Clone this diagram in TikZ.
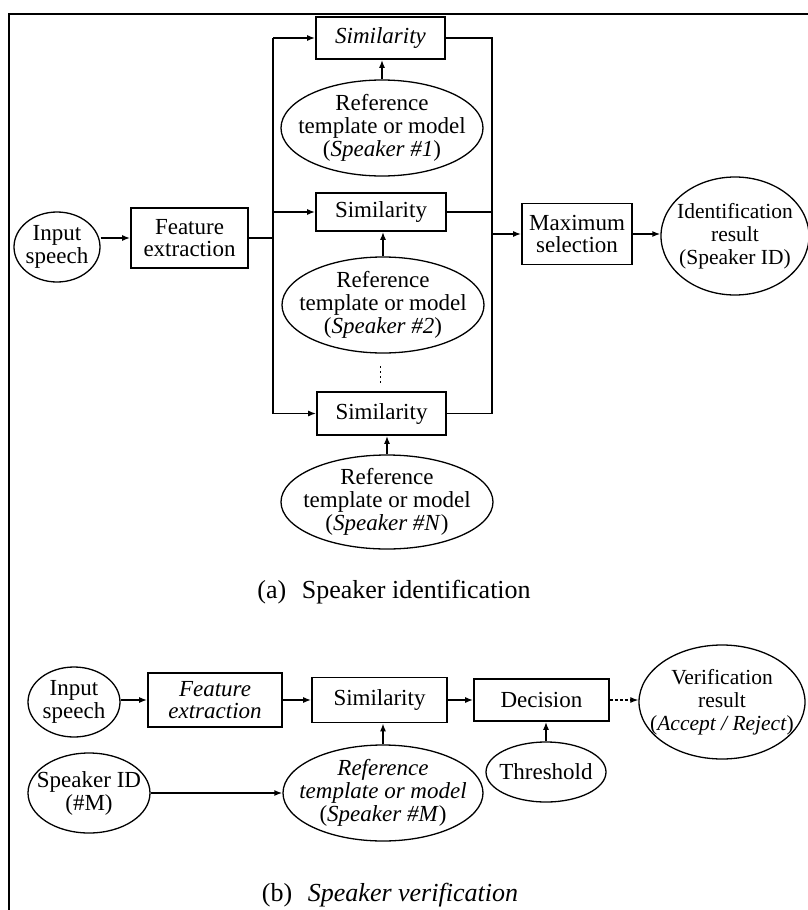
\documentclass[tikz,border=0pt]{standalone}
\usepackage{fontspec}
\setmainfont{Liberation Serif}
\usetikzlibrary{shapes.geometric,arrows.meta}
\begin{document}
\begin{tikzpicture}[x=1pt,y=-1pt,
  every node/.style={font=\fontsize{23}{22}\selectfont},
  box/.style={draw, line width=1.6pt, rectangle, inner sep=0pt, align=center},
  ell/.style={draw, line width=1.3pt, ellipse, inner sep=0pt},
  lbl/.style={align=center, inner sep=0pt, font=\fontsize{23}{23}\selectfont},
  lblsm/.style={align=center, inner sep=0pt, font=\fontsize{21.5}{23}\selectfont},
  con/.style={line width=1.8pt},
  arr/.style={con, -{Latex[length=8pt,width=6pt]}},
  captxt/.style={font=\fontsize{26}{26}\selectfont},
]
\useasboundingbox (0,0) rectangle (808,910);
\draw[line width=1.8pt] (9,910) -- (9,14) -- (808,14);

% ---------- (a) Speaker identification ----------
\node[ell, minimum width=86pt, minimum height=70pt,
  label={[lbl]center:{Input\\speech}}] (inA) at (57,247) {};
\node[box, minimum width=117pt, minimum height=60pt] (feA) at (189.5,238) {Feature\\extraction};
\node[box, minimum width=129pt, minimum height=42pt] (sim1) at (380.5,38) {\textit{Similarity}};
\node[ell, minimum width=202pt, minimum height=96pt,
  label={[lbl]center:{Reference\\template or model\\(\textit{Speaker \#1})}}] (ref1) at (382,128) {};
\node[box, minimum width=130pt, minimum height=38pt] (sim2) at (381,212) {Similarity};
\node[ell, minimum width=202pt, minimum height=96pt,
  label={[lbl]center:{Reference\\template or model\\(\textit{Speaker \#2})}}] (ref2) at (383,305) {};
\coordinate (dotsT) at (380,366);
\coordinate (dotsB) at (380,384);
\draw[line width=1pt, dash pattern=on 2pt off 3pt] (dotsT) -- (dotsB);
\node[box, minimum width=129pt, minimum height=43pt] (sim3) at (381.5,413.5) {Similarity};
\node[ell, minimum width=212pt, minimum height=94pt,
  label={[lbl]center:{Reference\\template or model\\(\textit{Speaker \#N})}}] (refN) at (387,502) {};
\node[box, minimum width=110pt, minimum height=61pt] (maxsel) at (577,234) {Maximum\\selection};
\node[ell, minimum width=148pt, minimum height=118pt,
  label={[lblsm]center:{Identification\\result\\(Speaker ID)}}] (idres) at (735,236) {};
\node[captxt] (capA) at (394,592) {(a)\hspace{0.6em}Speaker identification};

\coordinate (busL) at (273,238);
\coordinate (busR) at (492,234);
\draw[arr] (inA.east |- feA.west) -- (feA.west);
\draw[con] (feA.east) -- (busL);
\draw[con] (busL |- sim1.west) -- (busL |- sim3.west);
\draw[arr] (busL |- sim1.west) -- (sim1.west);
\draw[arr] (busL |- sim2.west) -- (sim2.west);
\draw[arr] (busL |- sim3.west) -- (sim3.west);
\draw[con] (sim1.east) -| (busR |- sim3.east) -- (sim3.east);
\draw[con] (sim2.east) -- (busR |- sim2.east);
\draw[arr] (busR) -- (maxsel.west);
\draw[arr] (maxsel.east) -- (maxsel.east -| idres.west);
\draw[arr] (ref1.north) -- (ref1.north |- sim1.south);
\draw[arr] (ref2.north) -- (ref2.north |- sim2.south);
\draw[arr] (refN.north) -- (refN.north |- sim3.south);

% ---------- (b) Speaker verification ----------
\node[ell, minimum width=92pt, minimum height=70pt,
  label={[lbl]center:{Input\\speech}}] (inB) at (74,702) {};
\node[box, minimum width=134pt, minimum height=54pt] (feB) at (215,700) {\textit{Feature}\\\textit{extraction}};
\node[box, minimum width=135pt, minimum height=45pt] (simB) at (379.5,700) {Similarity};
\node[box, minimum width=135pt, minimum height=42pt] (decB) at (541.5,700) {Decision};
\node[ell, minimum width=166pt, minimum height=114pt,
  label={[lblsm]center:{Verification\\result\\(\textit{Accept / Reject})}}] (verB) at (722,702) {};
\node[ell, minimum width=120pt, minimum height=60pt,
  label={[lbl]center:{Threshold}}] (thrB) at (546,772) {};
\node[ell, minimum width=200pt, minimum height=96pt,
  label={[lbl]center:{\textit{Reference}\\\textit{template or model}\\(\textit{Speaker \#M})}}] (refB) at (383,793) {};
\node[ell, minimum width=122pt, minimum height=80pt,
  label={[lbl]center:{Speaker ID\\(\#M)}}] (spkB) at (89,793) {};
\node[captxt] (capB) at (390,895) {(b)\hspace{0.6em}\textit{Speaker verification}};

\draw[arr] (inB.east |- feB.west) -- (feB.west);
\draw[arr] (feB) -- (simB);
\draw[arr] (simB) -- (decB);
\draw[con, line width=1.2pt, densely dashed, -{Latex[length=8pt,width=6pt]}] (decB.east) -- (decB.east -| verB.west);
\draw[arr] (refB.north) -- (refB.north |- simB.south);
\draw[arr] (thrB.north) -- (thrB.north |- decB.south);
\draw[arr] (spkB.east) -- (refB.west);
\end{tikzpicture}
\end{document}
